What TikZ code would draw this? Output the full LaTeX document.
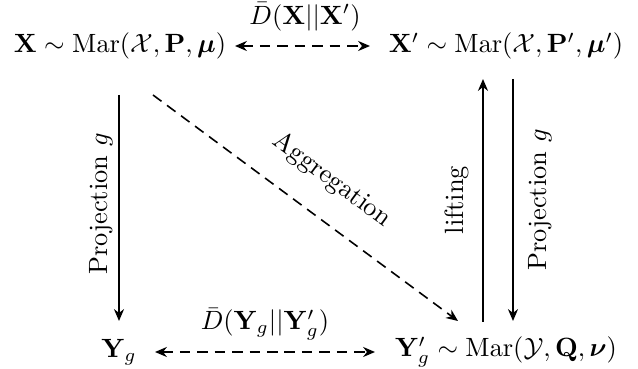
\documentclass[tikz,border=0pt]{standalone}
\usepackage{amsmath,amssymb}
\usetikzlibrary{arrows.meta,calc}
\begin{document}
\begin{tikzpicture}[x=0.0133cm,y=-0.0133cm,
  tip/.tip={Stealth[length=4.5pt,width=3.8pt]},
  arr/.style={line width=0.6pt,-tip},
  darr/.style={line width=0.6pt,tip-tip,dash pattern=on 4pt off 2.6pt},
  dline/.style={line width=0.6pt,-tip,dash pattern=on 4pt off 2.6pt},
  lbl/.style={inner sep=0pt}]
\useasboundingbox (0,0) rectangle (638,369);
\node (X) at (120,46) {$\mathbf{X}\sim\mathrm{Mar}(\mathcal{X},\mathbf{P},\boldsymbol{\mu})$};
\node (Xp) at (506,46) {$\mathbf{X}'\sim\mathrm{Mar}(\mathcal{X},\mathbf{P}',\boldsymbol{\mu}')$};
\node (Yg) at (119,352) {$\mathbf{Y}_g$};
\node (Ygp) at (506,352) {$\mathbf{Y}_g'\sim\mathrm{Mar}(\mathcal{Y},\mathbf{Q},\boldsymbol{\nu})$};
% top and bottom dashed
\draw[darr] ($(X)+(115,0)$) -- ($(Xp)+(-136,0)$);
\node[lbl] (dtop) at (305,17) {$\bar{D}(\mathbf{X}||\mathbf{X}')$};
\draw[darr] ($(Yg)+(36,0)$) -- ($(Ygp)+(-131,0)$);
\node[lbl] (dbot) at (265,324) {$\bar{D}(\mathbf{Y}_g||\mathbf{Y}_g')$};
% left projection
\draw[arr] ($(X)+(-1,49)$) -- ($(Yg)+(0,-31)$);
\node[lbl,rotate=90] (pl) at (101,204) {Projection $g$};
% right side
\draw[arr] ($(Ygp)+(-23,-30)$) -- ($(Xp)+(-23,33)$);
\node[lbl,rotate=90] (lift) at (457,200) {lifting};
\draw[arr] ($(Xp)+(7,33)$) -- ($(Ygp)+(7,-31)$);
\node[lbl,rotate=90] (pr) at (540,200) {Projection $g$};
% diagonal
\draw[dline] ($(X)+(33,49)$) -- ($(Ygp)+(-48,-31)$);
\node[lbl,rotate=-36.5] (agg) at (332,180) {Aggregation};
\end{tikzpicture}
\end{document}
